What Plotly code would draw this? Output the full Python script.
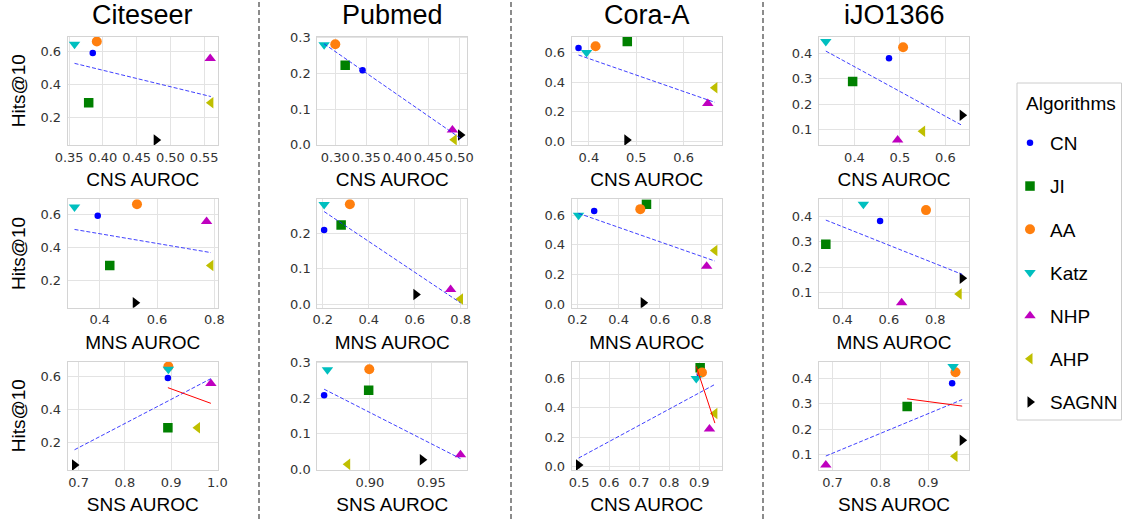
import numpy as np
import plotly.graph_objects as go

# ---------------- data ----------------
algorithms = ["CN", "JI", "AA", "Katz", "NHP", "AHP", "SAGNN"]
datasets = ["Citeseer", "Pubmed", "Cora-A", "iJO1366"]

# Hits@10 per dataset (order follows `algorithms`)
hits_citeseer = [0.590, 0.288, 0.660, 0.643, 0.556, 0.288, 0.062]
hits_pubmed = [0.209, 0.223, 0.282, 0.281, 0.041, 0.014, 0.027]
hits_cora = [0.629, 0.674, 0.641, 0.600, 0.256, 0.362, 0.010]
hits_ijo = [0.381, 0.290, 0.424, 0.447, 0.060, 0.095, 0.157]

# CNS AUROC
cns_citeseer = [0.385, 0.379, 0.391, 0.358, 0.559, 0.560, 0.479]
cns_pubmed = [0.344, 0.316, 0.300, 0.282, 0.489, 0.492, 0.502]
cns_cora = [0.378, 0.481, 0.414, 0.395, 0.651, 0.666, 0.480]
cns_ijo = [0.476, 0.396, 0.507, 0.337, 0.495, 0.550, 0.637]

# MNS AUROC
mns_citeseer = [0.393, 0.435, 0.530, 0.312, 0.773, 0.788, 0.524]
mns_pubmed = [0.206, 0.280, 0.318, 0.206, 0.756, 0.799, 0.605]
mns_cora = [0.281, 0.535, 0.505, 0.205, 0.827, 0.867, 0.519]
mns_ijo = [0.562, 0.328, 0.760, 0.490, 0.655, 0.903, 0.916]

# SNS AUROC
sns_citeseer = [0.893, 0.893, 0.894, 0.894, 0.986, 0.957, 0.691]
sns_pubmed = [0.8627, 0.899, 0.8995, 0.8654, 0.9738, 0.8819, 0.9427]
sns_cora = [0.902, 0.903, 0.909, 0.890, 0.934, 0.952, 0.498]
sns_ijo = [0.950, 0.856, 0.957, 0.952, 0.686, 0.956, 0.971]

# outlier excluded for the red (robust) fit in the SNS row
sns_outlier = ["SAGNN", None, "SAGNN", "NHP"]

# axis labels per row / column
row_labels = [
    ["CNS AUROC", "CNS AUROC", "CNS AUROC", "CNS AUROC"],
    ["MNS AUROC", "MNS AUROC", "MNS AUROC", "MNS AUROC"],
    ["SNS AUROC", "SNS AUROC", "CNS AUROC", "SNS AUROC"],
]

# tick labels
xticks = [
    [[0.35, 0.40, 0.45, 0.50, 0.55], [0.30, 0.35, 0.40, 0.45, 0.50], [0.4, 0.5, 0.6], [0.4, 0.5, 0.6]],
    [[0.4, 0.6, 0.8], [0.2, 0.4, 0.6, 0.8], [0.2, 0.4, 0.6, 0.8], [0.4, 0.6, 0.8]],
    [[0.7, 0.8, 0.9, 1.0], [0.90, 0.95], [0.5, 0.6, 0.7, 0.8, 0.9], [0.7, 0.8, 0.9]],
]
xtick_fmt = [
    [".2f", ".2f", ".1f", ".1f"],
    [".1f", ".1f", ".1f", ".1f"],
    [".1f", ".2f", ".1f", ".1f"],
]
yticks = [[0.2, 0.4, 0.6], [0.0, 0.1, 0.2, 0.3], [0.0, 0.2, 0.4, 0.6], [0.1, 0.2, 0.3, 0.4]]

# y-range overrides (row, col) where the original autoscale differs
yrange_override = {(0, 1): [-0.001, 0.304], (2, 1): [-0.002, 0.304]}

hits = [hits_citeseer, hits_pubmed, hits_cora, hits_ijo]
aurocs = [
    [cns_citeseer, cns_pubmed, cns_cora, cns_ijo],
    [mns_citeseer, mns_pubmed, mns_cora, mns_ijo],
    [sns_citeseer, sns_pubmed, sns_cora, sns_ijo],
]

# ---------------- style ----------------
colors = ["#0000ff", "#008000", "#ff7f0e", "#00bfbf", "#bf00bf", "#bfbf00", "#000000"]
symbols = ["circle", "square", "circle", "triangle-down", "triangle-up", "triangle-left", "triangle-right"]
sizes = [6.5, 9.5, 10, 10, 10, 10, 10]

W, H = 1123, 519
col_left = [67.7, 317.3, 571.7, 819.0]
plot_w = 150.0
row_top = [36.5, 199.3, 361.5]
plot_h = 108.5

label_font = dict(family="Arial, Liberation Sans, sans-serif", size=19, color="#000000")
tick_font = dict(family="DejaVu Sans, sans-serif", size=13, color="#333333")
edge = "#d4d4d4"

fig = go.Figure()
layout = {}
annotations = []

for r in range(3):
    for c in range(4):
        k = r * 4 + c + 1
        xs = np.array(aurocs[r][c], dtype=float)
        ys = np.array(hits[c], dtype=float)
        xa = "x" if k == 1 else f"x{k}"
        ya = "y" if k == 1 else f"y{k}"

        for i, alg in enumerate(algorithms):
            fig.add_trace(go.Scatter(
                x=[xs[i]], y=[ys[i]], mode="markers", name=alg,
                legendgroup=alg, showlegend=(k == 1),
                marker=dict(color=colors[i], symbol=symbols[i], size=sizes[i],
                            line=dict(width=0)),
                xaxis=xa, yaxis=ya,
            ))

        all_y = list(ys)
        # overall fit (blue dashed)
        m, b = np.polyfit(xs, ys, 1)
        lx = np.array([xs.min(), xs.max()])
        ly = m * lx + b
        all_y += list(ly)
        fig.add_trace(go.Scatter(
            x=lx, y=ly, mode="lines", showlegend=False, hoverinfo="skip",
            line=dict(color="rgba(30,30,255,0.85)", width=1, dash="4px,2px"),
            xaxis=xa, yaxis=ya,
        ))
        # robust fit without the outlier (red solid), SNS row only
        if r == 2 and sns_outlier[c] is not None:
            keep = np.array([a != sns_outlier[c] for a in algorithms])
            m2, b2 = np.polyfit(xs[keep], ys[keep], 1)
            rx = np.array([xs[keep].min(), xs[keep].max()])
            ry = m2 * rx + b2
            all_y += list(ry)
            fig.add_trace(go.Scatter(
                x=rx, y=ry, mode="lines", showlegend=False, hoverinfo="skip",
                line=dict(color="#ff0000", width=1),
                xaxis=xa, yaxis=ya,
            ))

        # matplotlib-like autoscale with 5% margins
        x0, x1 = xs.min(), xs.max()
        y0, y1 = min(all_y), max(all_y)
        dx, dy = (x1 - x0) * 0.05, (y1 - y0) * 0.05
        yr = yrange_override.get((r, c), [y0 - dy, y1 + dy])

        left = col_left[c] / W
        right = (col_left[c] + plot_w) / W
        top = 1 - row_top[r] / H
        bottom = 1 - (row_top[r] + plot_h) / H

        common = dict(showgrid=True, gridcolor="#e3e3e3", gridwidth=1,
                      showline=True, linecolor=edge, linewidth=1, mirror=True,
                      zeroline=False, ticks="", tickfont=tick_font,
                      tickangle=0, automargin=False)
        layout["xaxis" if k == 1 else f"xaxis{k}"] = dict(
            domain=[left, right], anchor=ya, range=[x0 - dx, x1 + dx],
            tickvals=xticks[r][c], tickformat=xtick_fmt[r][c],
            ticklabelstandoff=0,
            title=dict(text=row_labels[r][c], font=label_font, standoff=9),
            **common)
        layout["yaxis" if k == 1 else f"yaxis{k}"] = dict(
            domain=[bottom, top], anchor=xa, range=yr,
            tickvals=yticks[c], tickformat=".1f", ticklabelstandoff=3,
            **common)
        if c == 0:
            annotations.append(dict(
                text="Hits@10", xref="paper", yref="paper", textangle=-90,
                x=18.5 / W, y=(bottom + top) / 2, xanchor="center", yanchor="middle",
                showarrow=False, font=label_font))

for c, name in enumerate(datasets):
    annotations.append(dict(
        text=name, xref="paper", yref="paper",
        x=(col_left[c] + plot_w / 2) / W, y=1 - 14.5 / H,
        xanchor="center", yanchor="middle", showarrow=False,
        font=dict(family="Arial, Liberation Sans, sans-serif", size=27, color="#000000"),
    ))

# legend title
annotations.append(dict(
    text="Algorithms", xref="paper", yref="paper",
    x=1071 / W, y=1 - 103 / H, xanchor="center", yanchor="middle",
    showarrow=False, font=label_font))

shapes = []
for px in [259, 511, 763]:
    shapes.append(dict(type="line", xref="paper", yref="paper",
                       x0=px / W, x1=px / W, y0=0, y1=1,
                       line=dict(color="#8c8c8c", width=2, dash="5px,3px")))
# legend frame
shapes.append(dict(type="rect", xref="paper", yref="paper",
                   x0=1017 / W, x1=1121.5 / W, y0=1 - 420 / H, y1=1 - 83 / H,
                   line=dict(color="#cccccc", width=1), fillcolor="rgba(0,0,0,0)"))

fig.update_layout(
    width=W, height=H, margin=dict(l=0, r=0, t=0, b=0, autoexpand=False),
    paper_bgcolor="white", plot_bgcolor="white",
    annotations=annotations, shapes=shapes,
    legend=dict(
        x=1010 / W, y=1 - 124 / H, xanchor="left", yanchor="top",
        borderwidth=0, bgcolor="rgba(0,0,0,0)",
        font=label_font, tracegroupgap=15.5, itemwidth=30,
    ),
    **layout,
)

fig.write_html(
    "out.html",
    config={"displayModeBar": False},
    post_script="document.body.style.margin='0';document.body.style.overflow='hidden';",
)
